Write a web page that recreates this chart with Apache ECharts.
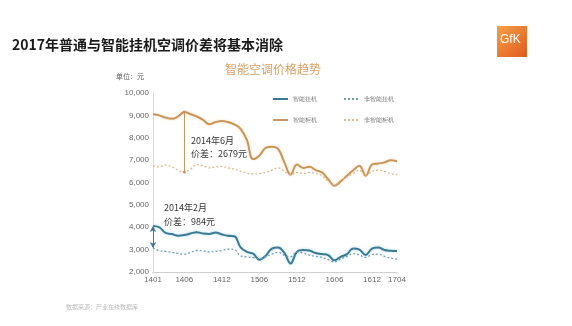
<!DOCTYPE html>
<html><head><meta charset="utf-8">
<script src="https://cdn.jsdelivr.net/npm/echarts@6/dist/echarts.min.js"></script>
<style>html,body{margin:0;padding:0;background:#fff;}#c{width:572px;height:326px;}</style>
</head><body><div id="c"></div>
<script>
const months = ['1401','1402','1403','1404','1405','1406','1407','1408','1409','1410','1411','1412',
'1501','1502','1503','1504','1505','1506','1507','1508','1509','1510','1511','1512',
'1601','1602','1603','1604','1605','1606','1607','1608','1609','1610','1611','1612',
'1701','1702','1703','1704'];
const shownTicks = ['1401','1406','1412','1506','1512','1606','1612','1704'];
const smartWall = [4060,4000,3750,3700,3620,3650,3720,3780,3720,3700,3760,3680,3620,3600,3100,2900,2820,2550,2720,3050,3100,2850,2380,2900,2980,2960,2850,2800,2750,2520,2680,2800,3050,3000,2760,3050,3100,2980,2950,2940];
const normalWall = [3076,2960,2920,2880,2830,2800,2880,2960,2950,2900,2920,2960,3020,3000,2720,2680,2640,2600,2680,2800,2880,2750,2680,2900,2850,2750,2700,2650,2550,2450,2580,2700,2820,2760,2650,2780,2800,2700,2620,2580];
const smartCab = [9050,9000,8900,8850,8950,9150,9050,8950,8800,8600,8700,8750,8700,8600,8400,7900,7050,7200,7550,7600,7500,6900,6350,6800,6650,6700,6550,6450,6150,5850,6050,6300,6550,6750,6300,6800,6850,6900,7000,6950];
const normalCab = [6750,6700,6780,6700,6550,6471,6600,6800,6750,6650,6700,6720,6650,6600,6500,6420,6380,6400,6450,6550,6650,6500,6350,6450,6400,6450,6400,6300,6050,5900,6100,6250,6400,6550,6300,6500,6550,6500,6400,6350];
const seriesNames = ['智能挂机','非智能挂机','智能柜机','非智能柜机'];

const BLUE = '#3d7a92', BLUE_L = '#6f9fb3', ORANGE = '#c8955a', ORANGE_L = '#dcb98a';
const chart = echarts.init(document.getElementById('c'));
const legendCommon = {left: 267, itemWidth: 15, itemHeight: 6, itemGap: 26,
  itemStyle: {opacity: 0, borderWidth: 0},
  textStyle: {fontSize: 6, color: '#777'}};
chart.setOption({
  backgroundColor: '#ffffff',
  animation: false,
  title: [
    {text: '2017年普通与智能挂机空调价差将基本消除', left: 7, top: 33,
     textStyle: {fontSize: 14, fontWeight: 'bold', color: '#1a1a1a', fontFamily: 'Noto Sans CJK SC'}},
    {text: '智能空调价格趋势', left: 220, top: 58,
     textStyle: {fontSize: 12, fontWeight: 'normal', color: '#d9a066', fontFamily: 'Noto Sans CJK SC'}}
  ],
  legend: [
    Object.assign({data: [seriesNames[0], seriesNames[1]], top: 91}, legendCommon),
    Object.assign({data: [seriesNames[2], seriesNames[3]], top: 112}, legendCommon)
  ],
  grid: {left: 153, right: 175, top: 93, bottom: 54},
  xAxis: {
    type: 'category', data: months, boundaryGap: false,
    axisLine: {lineStyle: {color: '#cfcfcf'}}, axisTick: {show: false},
    axisLabel: {fontSize: 8, color: '#666', margin: 4,
      interval: (i, v) => shownTicks.includes(v)}
  },
  yAxis: {
    type: 'value', min: 2000, max: 10000, interval: 1000,
    axisLine: {show: true, lineStyle: {color: '#d8d8d8'}}, axisTick: {show: false},
    splitLine: {show: false},
    axisLabel: {fontSize: 8, color: '#666', margin: 4, formatter: v => v.toLocaleString('en-US')}
  },
  series: [
    {name: seriesNames[0], type: 'line', data: smartWall, symbol: 'none', smooth: 0.4,
     lineStyle: {color: BLUE, width: 2, shadowColor: 'rgba(120,200,230,0.6)', shadowBlur: 3},
     itemStyle: {color: BLUE},
     markLine: {silent: true, symbol: ['arrow','arrow'], symbolSize: [5,6], label: {show: false},
       lineStyle: {color: BLUE, width: 1, type: 'solid'},
       data: [[{coord: ['1401', 4060]}, {coord: ['1401', 3076]}]]}},
    {name: seriesNames[1], type: 'line', data: normalWall, symbol: 'none', smooth: 0.4,
     lineStyle: {color: BLUE_L, width: 1.3, type: [2, 2]}, itemStyle: {color: BLUE_L}},
    {name: seriesNames[2], type: 'line', data: smartCab, symbol: 'none', smooth: 0.4,
     lineStyle: {color: ORANGE, width: 2, shadowColor: 'rgba(240,200,150,0.6)', shadowBlur: 3},
     itemStyle: {color: ORANGE},
     markLine: {silent: true, symbol: ['circle','circle'], symbolSize: 3, label: {show: false},
       lineStyle: {color: ORANGE, width: 1, type: 'solid'},
       data: [[{coord: ['1406', 9150]}, {coord: ['1406', 6471]}]]}},
    {name: seriesNames[3], type: 'line', data: normalCab, symbol: 'none', smooth: 0.4,
     lineStyle: {color: ORANGE_L, width: 1.3, type: [2, 2]}, itemStyle: {color: ORANGE_L}}
  ],
  graphic: [
    {type: 'text', left: 116, top: 73, style: {text: '单位：元', fontSize: 7, fill: '#666', fontFamily: 'Noto Sans CJK SC'}},
    {type: 'text', left: 191, top: 136, style: {text: '2014年6月', fontSize: 9, fill: '#333', fontFamily: 'Noto Sans CJK SC'}},
    {type: 'text', left: 191, top: 149, style: {text: '价差：2679元', fontSize: 9, fill: '#333', fontFamily: 'Noto Sans CJK SC'}},
    {type: 'text', left: 164, top: 203, style: {text: '2014年2月', fontSize: 9, fill: '#333', fontFamily: 'Noto Sans CJK SC'}},
    {type: 'text', left: 164, top: 217, style: {text: '价差：984元', fontSize: 9, fill: '#333', fontFamily: 'Noto Sans CJK SC'}},
    {type: 'rect', left: 497, top: 26, shape: {width: 30, height: 31},
     style: {fill: new echarts.graphic.LinearGradient(0, 0, 1, 1, [{offset: 0, color: '#f6a04a'}, {offset: 1, color: '#e05a1a'}])}},
    {type: 'text', left: 500, top: 34, style: {text: 'GfK', fontSize: 12, fill: '#fff', fontFamily: 'Liberation Sans'}},
    {type: 'text', left: 66, top: 304, style: {text: '数据来源：产业在线数据库', fontSize: 6, fill: '#bbb', fontFamily: 'Noto Sans CJK SC'}}
  ]
});
</script></body></html>
